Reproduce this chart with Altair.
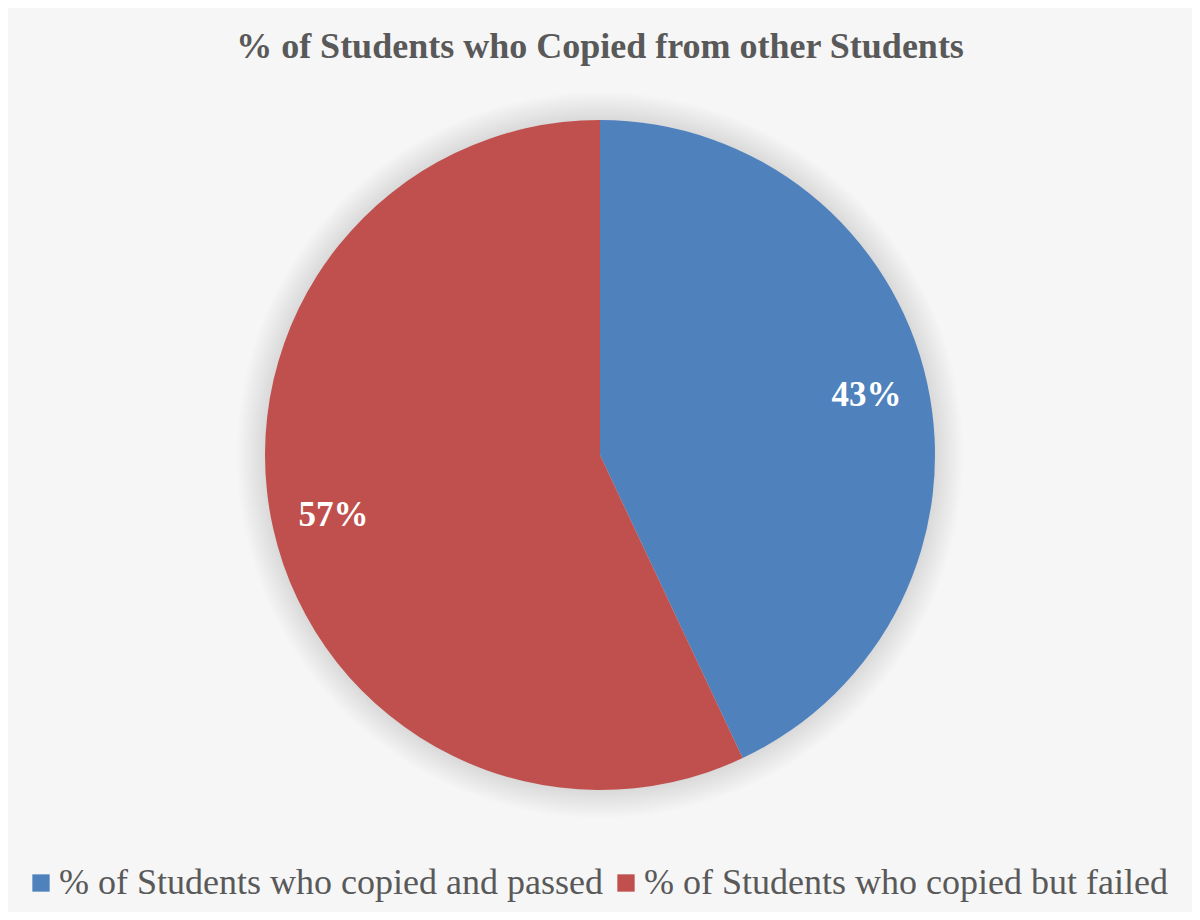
import altair as alt
import pandas as pd

categories = ["% of Students who copied and passed", "% of Students who copied but failed"]
values = [43, 57]
label_texts = ["43%", "57%"]
colors = ["#4F81BD", "#C0504D"]
title_text = "% of Students who Copied from other Students"

df = pd.DataFrame({"category": categories, "value": values, "label": label_texts, "idx": [0, 1]})

CX, CY, R = 592, 447, 335
SERIF = "Liberation Serif"

base = alt.Chart(df).encode(
    theta=alt.Theta("value:Q", stack=True),
    order=alt.Order("idx:Q"),
)

# soft shadow (glow) around the pie
shadow_layers = []
for dr in range(2, 30, 2):
    shadow_layers.append(
        alt.Chart(pd.DataFrame({"k": [1]})).mark_arc(
            theta=0, theta2=6.2832, radius=R + dr, color="#000000", opacity=0.008
        ).encode(x=alt.value(CX), y=alt.value(CY))
    )

pie = base.mark_arc(outerRadius=R, stroke=None).encode(
    x=alt.value(CX), y=alt.value(CY),
    color=alt.Color(
        "category:N",
        scale=alt.Scale(domain=categories, range=colors),
        sort=categories,
        legend=alt.Legend(
            orient="none", legendX=15, legendY=857, direction="horizontal", title=None,
            labelFont=SERIF, labelFontSize=36, labelColor="#595959", labelLimit=0,
            symbolType="square", symbolSize=300, symbolStrokeWidth=0,
            labelOffset=0, columnPadding=5,
        ),
    ),
)

text = base.mark_text(
    radius=273, font=SERIF, fontSize=35, fontWeight="bold", color="white"
).encode(x=alt.value(CX), y=alt.value(CY), text="label:N")

title = alt.Chart(pd.DataFrame({"t": [title_text]})).mark_text(
    font=SERIF, fontSize=36, fontWeight="bold", color="#595959", baseline="alphabetic", align="center"
).encode(x=alt.value(592), y=alt.value(50), text="t:N")

chart = alt.layer(*shadow_layers, pie, text, title).properties(
    width=1184, height=904, autosize=alt.AutoSizeParams(type="none"), padding=0,
    background="#f6f6f6",
).configure_view(stroke=None)

chart.save("out.html", embed_options={"renderer": "svg", "actions": False})
